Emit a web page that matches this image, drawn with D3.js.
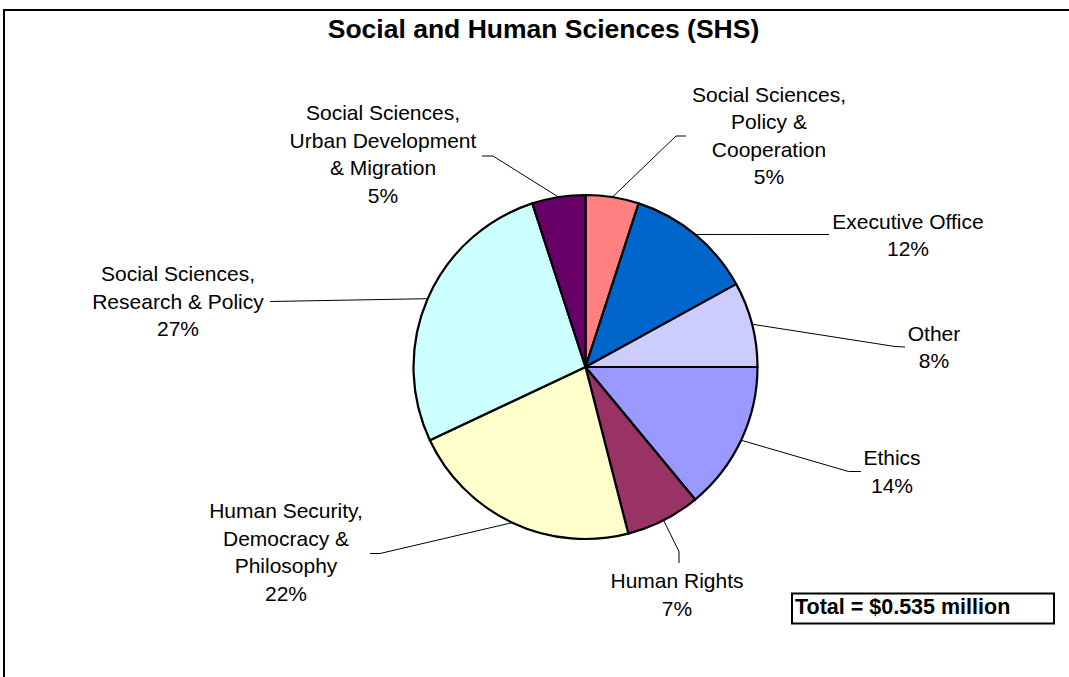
<!DOCTYPE html>
<html>
<head>
<meta charset="utf-8">
<script src="https://cdn.jsdelivr.net/npm/d3@7"></script>
<style>
  html, body { margin: 0; padding: 0; background: #fff; }
  svg { display: block; font-family: "Liberation Sans", Arial, sans-serif; }
</style>
</head>
<body>
<svg id="chart" width="1069" height="677"></svg>
<script>
// Budget shares of the Social and Human Sciences sector, clockwise from 12 o'clock
const categories = [
  "Social Sciences, Policy & Cooperation",
  "Executive Office",
  "Other",
  "Ethics",
  "Human Rights",
  "Human Security, Democracy & Philosophy",
  "Social Sciences, Research & Policy",
  "Social Sciences, Urban Development & Migration"
];
const shares = [5, 12, 8, 14, 7, 22, 27, 5];
const labelLines = [
  ["Social Sciences,", "Policy &", "Cooperation"],
  ["Executive Office"],
  ["Other"],
  ["Ethics"],
  ["Human Rights"],
  ["Human Security,", "Democracy &", "Philosophy"],
  ["Social Sciences,", "Research & Policy"],
  ["Social Sciences,", "Urban Development", "& Migration"]
];
const sliceColors = ["#FF8080", "#0066CC", "#CCCCFF", "#9999FF", "#993366", "#FFFFCC", "#CCFFFF", "#660066"];
const chartTitle = "Social and Human Sciences (SHS)";
const totalNote = "Total = $0.535 million";

// Label placement: leader-line bend points and text anchor (centre x, first baseline)
const labelLayout = [
  { bend: [[676, 136], [686, 136]], cx: 769, y: 101.5 },
  { bend: [[829, 234.5]], cx: 908, y: 228.5 },
  { bend: [[895, 346.5], [905, 347]], cx: 934, y: 340.5 },
  { bend: [[848.5, 471.5], [861, 471.5]], cx: 892, y: 465 },
  { bend: [[679, 551.5], [679, 563]], cx: 677, y: 588 },
  { bend: [[380, 553.5], [370, 553.5]], cx: 286, y: 518 },
  { bend: [[270, 301.5]], cx: 178, y: 281 },
  { bend: [[493, 156], [482, 156]], cx: 383, y: 120 }
];
const lineGap = 27.6;

const svg = d3.select("#chart");
const cx = 585.5, cy = 367, radius = 172;

// Outer frame (runs off the right and bottom edges)
svg.append("rect")
  .attr("x", 4).attr("y", 10)
  .attr("width", 1120).attr("height", 720)
  .attr("fill", "#fff").attr("stroke", "#000").attr("stroke-width", 2);

svg.append("text")
  .attr("x", 543.5).attr("y", 38)
  .attr("text-anchor", "middle")
  .attr("font-size", 26.5).attr("font-weight", "bold")
  .attr("fill", "#000")
  .text(chartTitle);

const data = categories.map((c, i) => ({ name: c, value: shares[i], color: sliceColors[i], lines: labelLines[i], layout: labelLayout[i] }));

const pie = d3.pie().sort(null).value(d => d.value).startAngle(0).endAngle(2 * Math.PI);
const arcs = pie(data);
const arc = d3.arc().innerRadius(0).outerRadius(radius);

const g = svg.append("g").attr("transform", `translate(${cx},${cy})`);
g.selectAll("path.slice")
  .data(arcs)
  .join("path")
  .attr("class", "slice")
  .attr("d", arc)
  .attr("fill", d => d.data.color)
  .attr("stroke", "#000")
  .attr("stroke-width", 2.2)
  .attr("stroke-linejoin", "round");

// Leader lines from the rim at each slice's middle angle
const line = d3.line();
arcs.forEach(a => {
  const mid = (a.startAngle + a.endAngle) / 2;
  const start = [cx + radius * Math.sin(mid), cy - radius * Math.cos(mid)];
  svg.append("path")
    .attr("d", line([start, ...a.data.layout.bend]))
    .attr("fill", "none")
    .attr("stroke", "#000")
    .attr("stroke-width", 1);
});

// Category labels with percentage on the last line
arcs.forEach(a => {
  const L = a.data.layout;
  const rows = [...a.data.lines, `${a.data.value}%`];
  const t = svg.append("text")
    .attr("text-anchor", "middle")
    .attr("font-size", 21)
    .attr("fill", "#000");
  rows.forEach((r, i) => {
    t.append("tspan").attr("x", L.cx).attr("y", L.y + i * lineGap).text(r);
  });
});

// Total note box
svg.append("rect")
  .attr("x", 792).attr("y", 593.5)
  .attr("width", 262).attr("height", 30)
  .attr("fill", "#fff").attr("stroke", "#000").attr("stroke-width", 2);
svg.append("text")
  .attr("x", 795).attr("y", 614)
  .attr("font-size", 21.5).attr("font-weight", "bold")
  .attr("fill", "#000")
  .text(totalNote);
</script>
</body>
</html>
